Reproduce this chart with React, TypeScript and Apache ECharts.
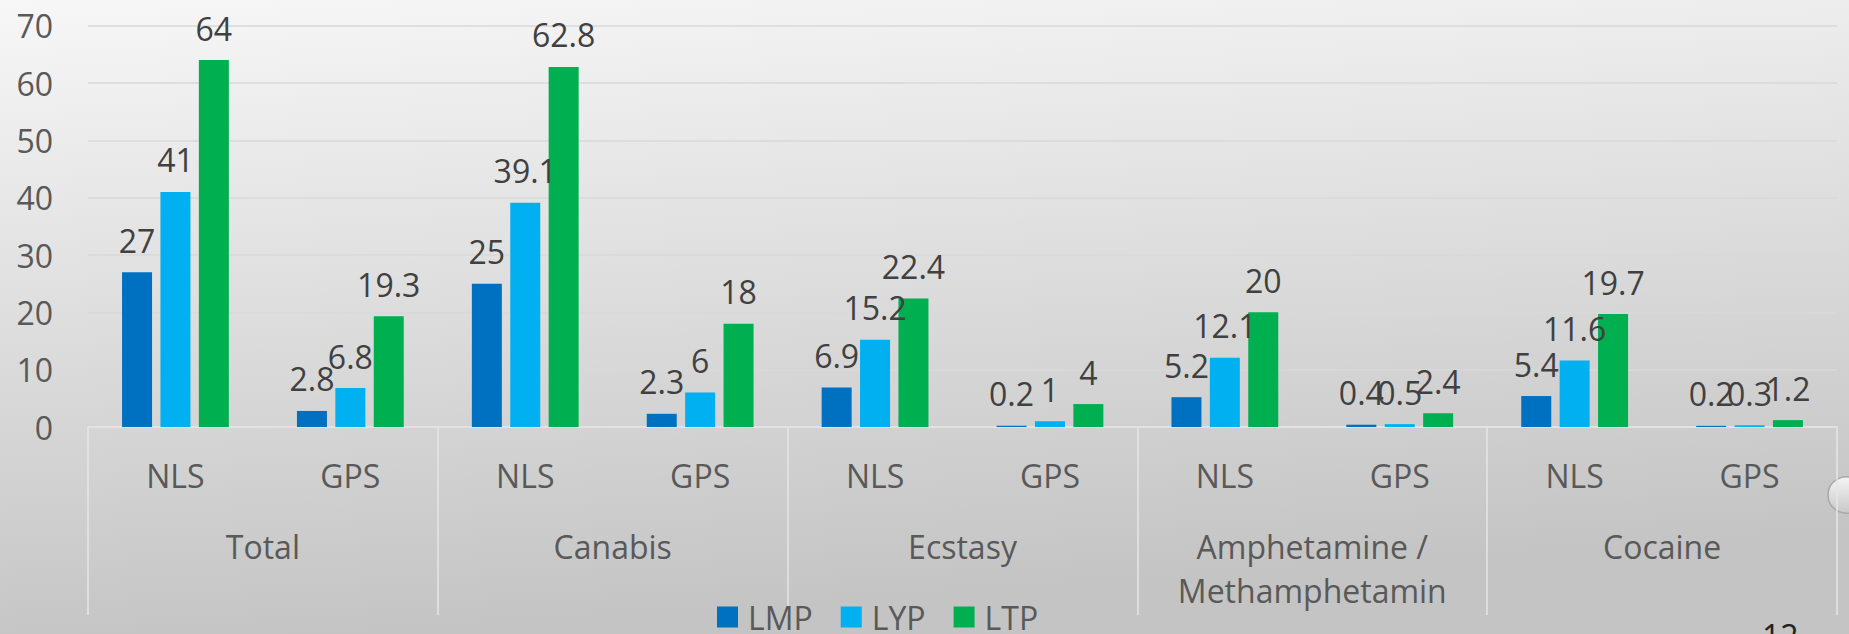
import React, { useEffect, useRef } from "react";
import * as echarts from "echarts";

const categories = ["NLS", "GPS", "NLS", "GPS", "NLS", "GPS", "NLS", "GPS", "NLS", "GPS"];
const groups = ["Total", "Canabis", "Ecstasy", "Amphetamine /\nMethamphetamin", "Cocaine"];
const seriesNames = ["LMP", "LYP", "LTP"];
const lmp = [27, 2.8, 25, 2.3, 6.9, 0.2, 5.2, 0.4, 5.4, 0.2];
const lyp = [41, 6.8, 39.1, 6, 15.2, 1, 12.1, 0.5, 11.6, 0.3];
const ltp = [64, 19.3, 62.8, 18, 22.4, 4, 20, 2.4, 19.7, 1.2];
const colors = ["#0070C0", "#00B0F0", "#00B050"];
const yMin = 0;
const yMax = 70;
const yInterval = 10;

const FONT = "Open Sans";

export default function App() {
  const ref = useRef<HTMLDivElement>(null);
  useEffect(() => {
    document.body.style.margin = "0";
    if (!ref.current) return;
    const chart = echarts.init(ref.current, null, { renderer: "svg" });
    const mk = (name: string, data: number[], color: string) => ({
      name,
      type: "bar",
      data,
      barWidth: 30,
      barGap: "28%",
      itemStyle: { color },
      label: {
        show: true,
        position: "top",
        distance: 16,
        fontFamily: FONT,
        fontSize: 32,
        color: "#404040",
      },
    });
    chart.setOption({
      animation: false,
      backgroundColor: new echarts.graphic.LinearGradient(0, 0, 0.2, 1, [
        { offset: 0, color: "#f7f7f7" },
        { offset: 1, color: "#c4c4c4" },
      ]),
      textStyle: { fontFamily: FONT },
      grid: { left: 88, right: 12, top: 25.7, bottom: 207 },
      legend: {
        data: seriesNames,
        left: 717,
        top: 601,
        padding: 0,
        itemWidth: 21,
        itemHeight: 21,
        itemGap: 28,
        icon: "rect",
        textStyle: { fontFamily: FONT, fontSize: 32, color: "#595959", padding: [0, 0, 0, 5] },
      },
      xAxis: [
        {
          type: "category",
          data: categories,
          position: "bottom",
          axisLine: { show: true, lineStyle: { color: "#e6e6e6", width: 1.5 } },
          axisTick: { show: false },
          axisLabel: { margin: 32, fontFamily: FONT, fontSize: 32, color: "#595959", interval: 0 },
          splitLine: { show: false },
        },
        {
          type: "category",
          data: groups,
          position: "bottom",
          axisLine: { show: false },
          axisTick: { show: true, length: 188, lineStyle: { color: "#e6e6e6", width: 1.5 } },
          axisLabel: { margin: 97, fontFamily: FONT, fontSize: 32, lineHeight: 44, color: "#595959", interval: 0 },
          splitLine: { show: false },
        },
      ],
      yAxis: {
        type: "value",
        min: yMin,
        max: yMax,
        interval: yInterval,
        axisLine: { show: false },
        axisTick: { show: false },
        axisLabel: { margin: 35, fontFamily: FONT, fontSize: 32, color: "#595959" },
        splitLine: { lineStyle: { color: "#d9d9d9", width: 1.5 } },
      },
      series: [mk(seriesNames[0], lmp, colors[0]), mk(seriesNames[1], lyp, colors[1]), mk(seriesNames[2], ltp, colors[2])],
      graphic: [
        {
          type: "circle",
          shape: { cx: 1846, cy: 495, r: 18 },
          style: {
            fill: new echarts.graphic.LinearGradient(0, 0, 0, 1, [
              { offset: 0, color: "#f4f4f4" },
              { offset: 1, color: "#c8c8c8" },
            ]),
            stroke: "#a9a9a9",
            lineWidth: 1.5,
          },
          silent: true,
        },
        {
          type: "text",
          x: 1762,
          y: 619,
          style: { text: "12", fontFamily: FONT, fontSize: 32, fill: "#222222", verticalAlign: "top" },
          silent: true,
        },
      ],
    });
    return () => chart.dispose();
  }, []);
  return <div ref={ref} style={{ width: 1849, height: 634 }} />;
}
